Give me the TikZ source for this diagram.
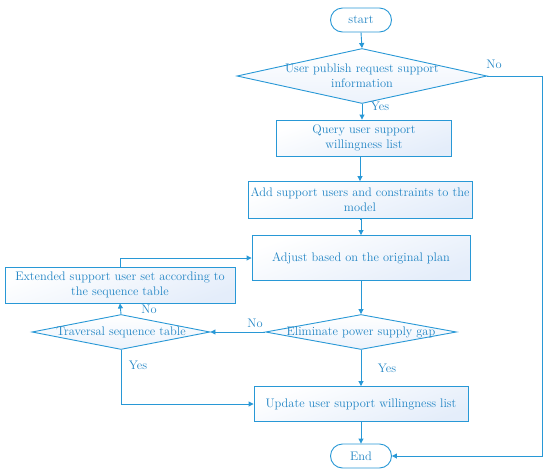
\documentclass[tikz,border=0pt]{standalone}
\usetikzlibrary{shapes.geometric,arrows.meta,calc}
\definecolor{lcol}{RGB}{40,152,214}
\definecolor{tcol}{RGB}{32,132,196}
\definecolor{fcol}{RGB}{228,237,250}
\begin{document}
\begin{tikzpicture}[x=1pt,y=-1pt,
  every node/.style={font=\fontsize{12.4}{15}\selectfont, text=tcol},
  procbox/.style={draw=lcol, line width=0.9pt, rectangle, align=center, inner sep=2pt, bottom color=fcol, top color=white, shading angle=20},
  termbox/.style={draw=lcol, line width=0.9pt, rectangle, rounded corners=12pt, minimum width=61pt, minimum height=24pt, fill=white},
  decbox/.style={draw=lcol, line width=0.9pt, diamond, inner sep=0pt, bottom color=fcol!70, top color=white},
  lab/.style={inner sep=0pt},
  conn/.style={draw=lcol, line width=0.9pt, -{Triangle[length=5pt,width=5pt]}},
  plain/.style={draw=lcol, line width=0.9pt}
]
\useasboundingbox (0,0) rectangle (550,475);
\node[termbox] (start) at (361,20) {start};
\node[decbox, minimum width=250pt, minimum height=55pt] (d1) at (362,76) {};
\node[lab, align=center] (d1t) at (362,76) {User publish request support\\information};
\node[procbox, minimum width=175pt, minimum height=36pt] (query) at (364,138) {Query user support\\willingness list};
\node[procbox, minimum width=224pt, minimum height=37pt] (add) at (360,200) {Add support users and constraints to the\\model};
\node[procbox, minimum width=218pt, minimum height=45pt] (adjust) at (361,258) {Adjust based on the original plan};
\node[procbox, minimum width=230pt, minimum height=36pt] (ext) at (120,285) {Extended support user set according to\\the sequence table};
\node[decbox, minimum width=191pt, minimum height=35pt] (elim) at (361,332) {};
\node[lab] (elimt) at (361,332) {Eliminate power supply gap};
\node[decbox, minimum width=178pt, minimum height=35pt] (trav) at (121,332) {};
\node[lab] (travt) at (121,332) {Traversal sequence table};
\node[procbox, minimum width=214pt, minimum height=35pt] (update) at (361,404) {Update user support willingness list};
\node[termbox] (end) at (361,456) {End};
\coordinate (rc) at (542,76);

\draw[conn] (start.south) -- (d1.north);
\draw[conn] (d1.south) -- (d1.south |- query.north);
\draw[conn] (d1.east) -- (rc) |- (end.east);
\draw[conn] (query.south -| add.north) -- (add.north);
\draw[conn] (add.south) -- (add.south -| adjust.north) -- (adjust.north);
\draw[conn] (adjust.south) -- (elim.north);
\draw[conn] (elim.west) -- (trav.east);
\draw[conn] (trav.north) -- (ext.south);
\draw[conn] (ext.north) |- (adjust.west);
\draw[conn] (trav.south) |- (update.west);
\draw[conn] (elim.south) -- (update.north);
\draw[conn] (update.south) -- (end.north);

\node[lab] (no1) at (494,64) {No};
\node[lab] (yes1) at (380,106) {Yes};
\node[lab] (no2) at (255,323) {No};
\node[lab] (no3) at (149,309) {No};
\node[lab] (yes2) at (138,365) {Yes};
\node[lab] (yes3) at (387,368) {Yes};
\end{tikzpicture}
\end{document}
